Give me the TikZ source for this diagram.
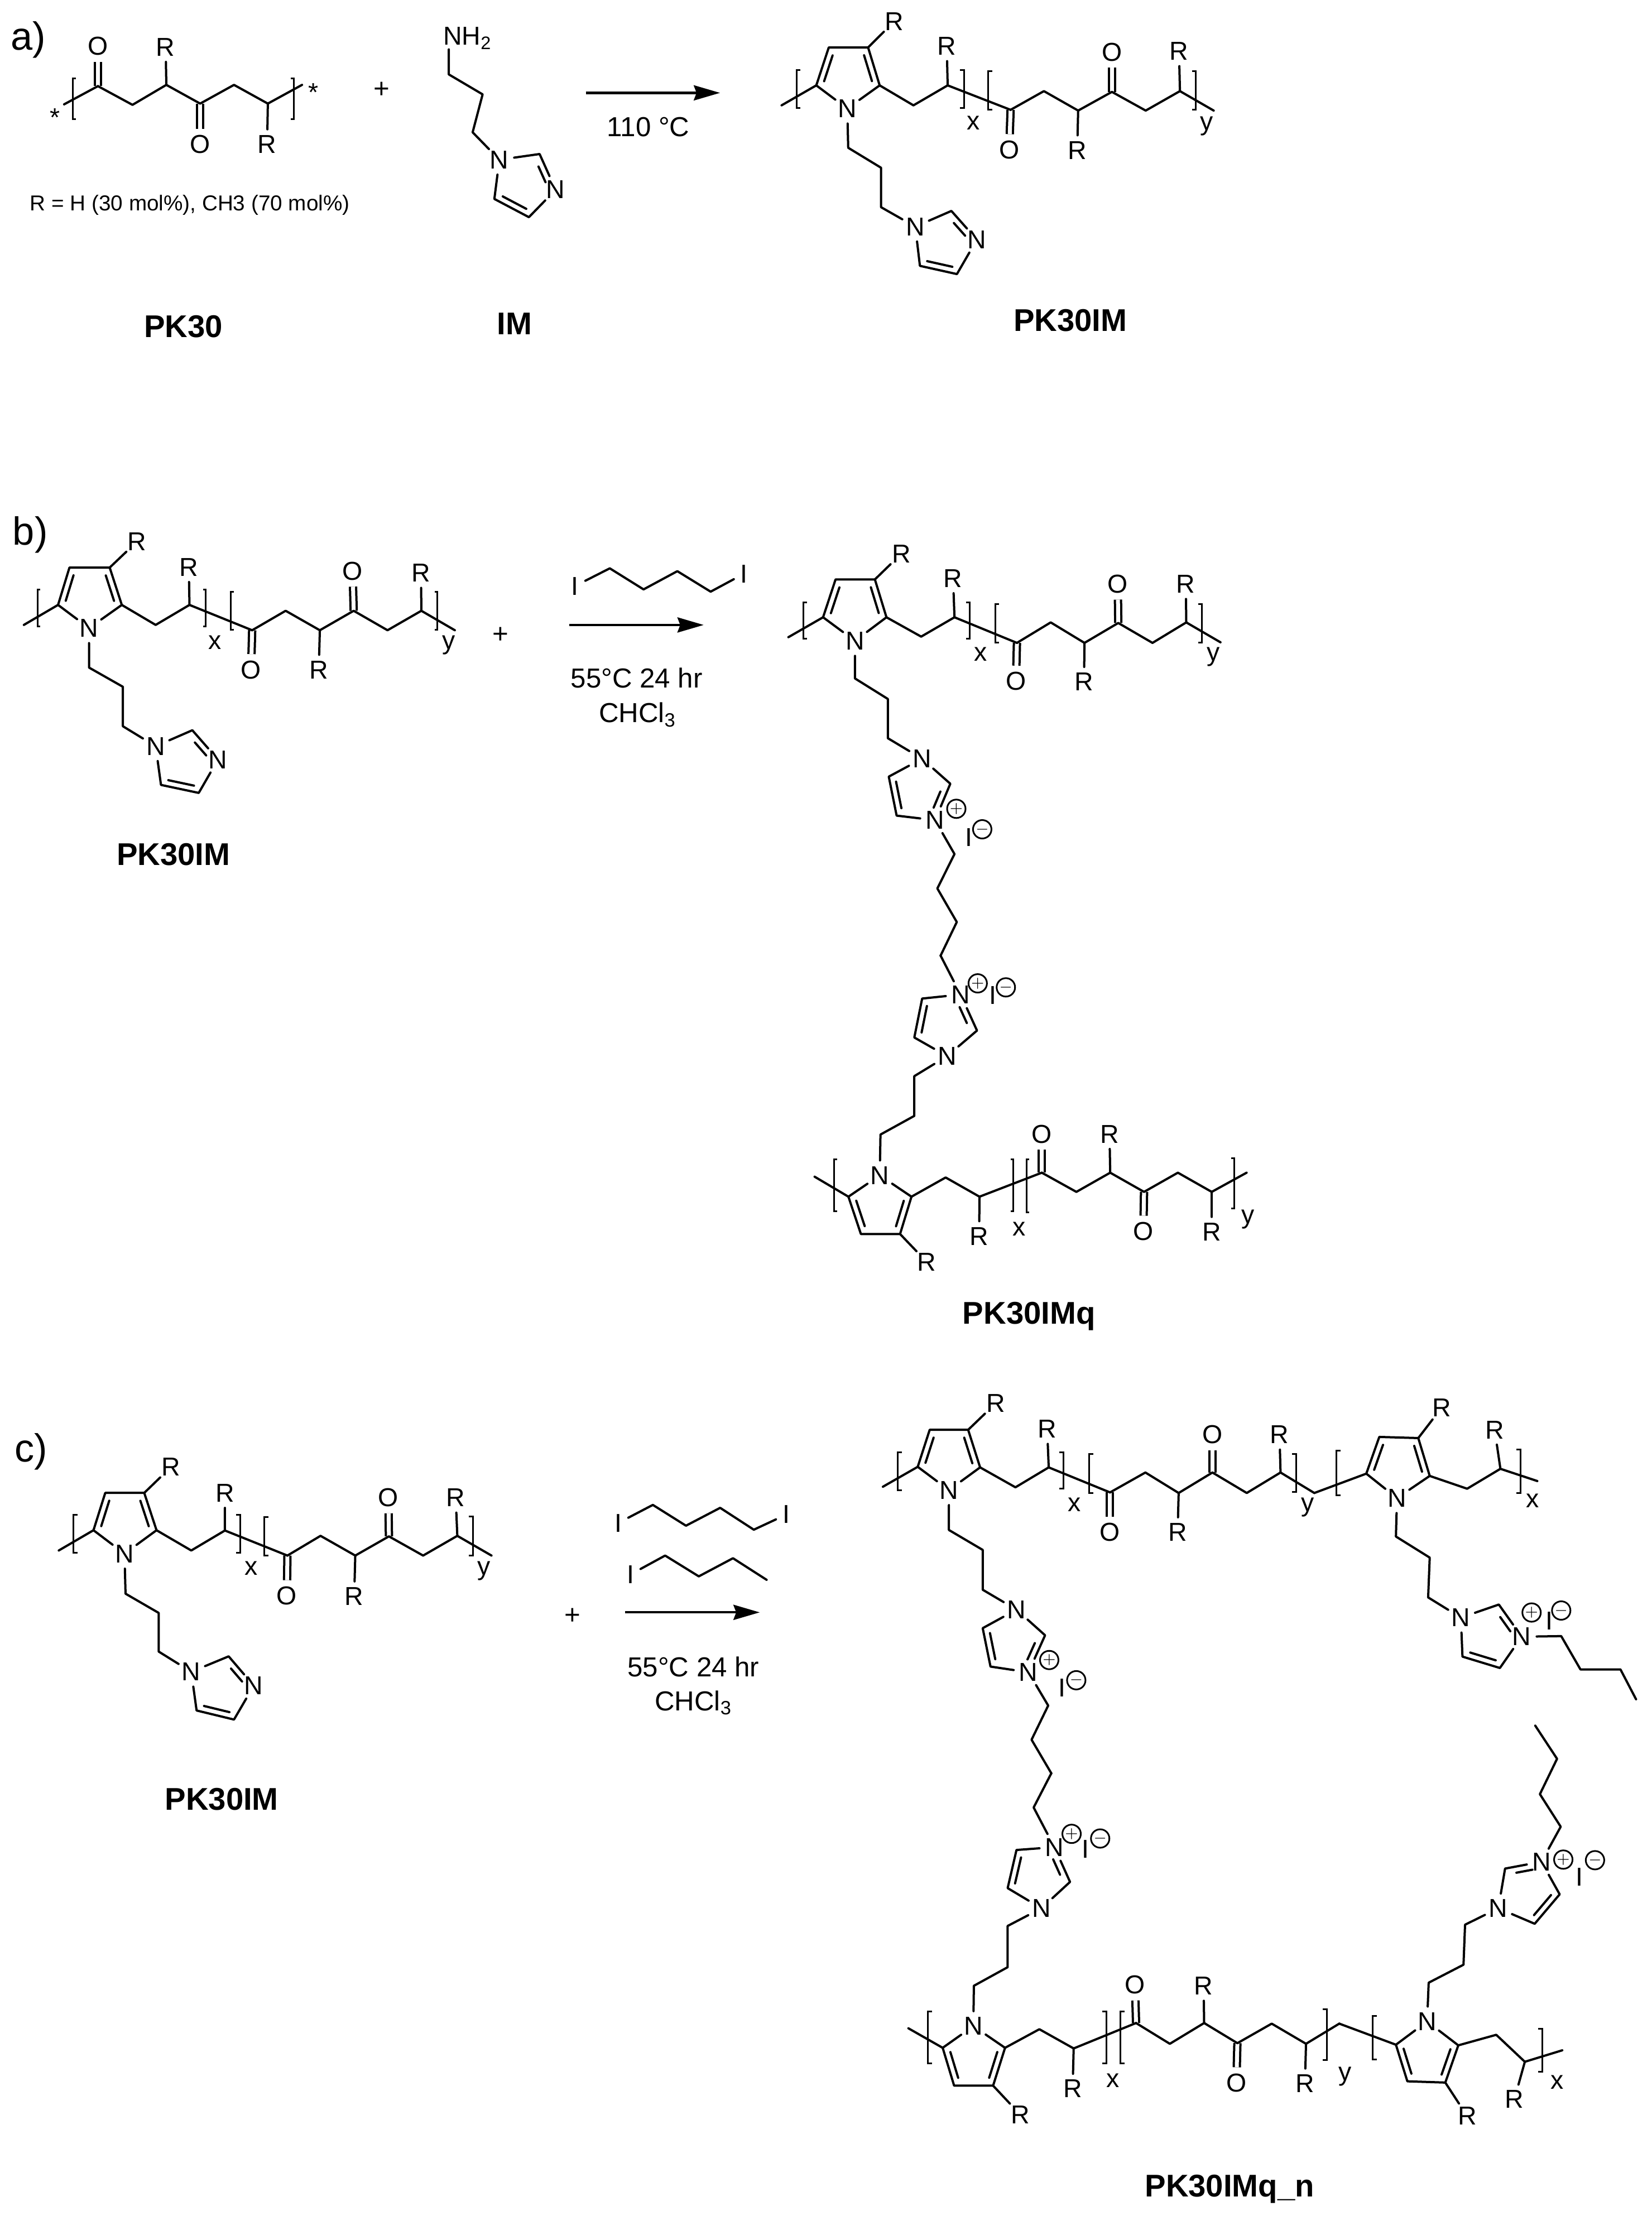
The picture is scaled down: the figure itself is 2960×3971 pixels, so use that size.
\documentclass[tikz,border=0pt]{standalone}
\usepackage{fontspec}
\setmainfont{Liberation Sans}
\usetikzlibrary{calc,arrows.meta}

\tikzset{
	bond/.style={line width=.04cm,line join=round,line cap=round},
	dblbond/.style={line width=.04cm,double,double distance=.07cm},
	bracket/.style={line width=.03cm},
	rxn/.style={line width=.042cm,-{Stealth[length=.47cm,width=.27cm,inset=.05cm]}},
	atom/.style={circle,inner sep=.6pt,font=\fontsize{13.2}{15.8}\selectfont},
	charge/.style={circle,draw,line width=.03cm,inner sep=0pt,minimum size=.33cm,font=\fontsize{8}{9.6}\selectfont},
	cond/.style={inner sep=0pt,font=\fontsize{14}{16.8}\selectfont},
	tag/.style={inner sep=0pt,font=\fontsize{20}{24}\selectfont},
	compound/.style={inner sep=0pt,font=\fontsize{16}{19}\selectfont\bfseries}
}

\newcommand{\pts}[2]{\foreach \nm/\x/\y in {#2} \coordinate (#1\nm) at (\x,\y);}
\newcommand{\labs}[2]{\foreach \nm/\x/\y/\txt in {#2} \node[atom] (#1\nm) at (\x,\y) {\txt};}
\newcommand{\lbrk}[3]{\draw[bracket] (#1+8,#2) -- (#1,#2) -- (#1,#3) -- (#1+8,#3);}
\newcommand{\rbrk}[3]{\draw[bracket] (#1-8,#2) -- (#1,#2) -- (#1,#3) -- (#1-8,#3);}
\newcommand{\inb}[4][.16]{\draw[bond] ($($(#2)!#1!(#3)$)!.11cm!#4:(#3)$) -- ($($(#3)!#1!(#2)$)!.11cm!360-#4:(#2)$);}
\newcommand{\keto}[1]{
	\draw[dblbond] (#1k1) -- (#1O1);
	\draw[dblbond] (#1k4) -- (#1O2);
	\draw[bond] (#1k3) -- (#1R3);
	\draw[bond] (#1k6) -- (#1R6);
	\draw[bond] (#1k1) -- (#1k2) -- (#1k3) -- (#1k4) -- (#1k5) -- (#1k6);
}
\newcommand{\imz}[2]{
	\draw[bond] (#1N1) -- (#1C2) -- (#1N3) -- (#1C4) -- (#1C5) -- (#1N1);
	\inb[.28]{#1N3}{#1C2}{#2}
	\inb{#1C5}{#1C4}{#2}
}
\newcommand{\pyrunit}[2]{
	\draw[bond] (#1r5) -- (#1N) -- (#1r2) -- (#1r3) -- (#1r4) -- (#1r5);
	\draw[bond] (#1r3) -- (#1Rr);
	\inb{#1r2}{#1r3}{#2}
	\inb{#1r4}{#1r5}{#2}
	\draw[bond] (#1t) -- (#1r5);
	\draw[bond] (#1r2) -- (#1p1) -- (#1p2) -- (#1Rp);
	\draw[bond] (#1N) -- (#1s1) -- (#1s2) -- (#1s3) -- (#1N1);
}
\newcommand{\ionpair}[7]{
	\node[charge] (#1plus) at (#2,#3) {$+$};
	\node[atom] (#1I) at (#4,#5) {I};
	\node[charge] (#1minus) at (#6,#7) {$-$};
}

\begin{document}
\begin{tikzpicture}[x=.01cm,y=-.01cm]
	\useasboundingbox (0,0) rectangle (2960,3971);

	% a) monomer and amine
	\begin{scope}[x=.006378cm,y=-.004464cm]
		\node[tag] (tagA) at (80,160) {a)};
		\pts{a}{t/180/418, k1/275/345, k2/372/420, k3/467/340, k4/562/415, k5/657/340, k6/752/415, e/848/340}
		\labs{a}{O1/275/185/O, R3/465/188/R, O2/562/578/O, R6/750/578/R, stL/155/470/*, stR/880/370/*}
		\keto{a}
		\draw[bond] (at) -- (ak1);
		\draw[bond] (ak6) -- (ae);
		\lbrk{205}{315}{477}
		\rbrk{825}{315}{477}
		\node[inner sep=0pt,font=\fontsize{11}{13.2}\selectfont] (ratio) at (533,822) {R = H (30 mol\%), CH3 (70 mol\%)};
		\node[compound] (pk) at (515,1308) {PK30};
		\node[cond] (plusA) at (1072,360) {+};
		\node[atom,inner sep=0pt,anchor=base west] (mNH) at (1237,180) {NH\textsubscript{2}};
		\pts{m}{b/1260/198, s1/1260/298, s2/1355/378, s3/1327/530, C2/1515/617, C4/1485/870, C5/1388/797}
		\labs{m}{N1/1402/640/N, N3/1560/760/N}
		\draw[bond] (mb) -- (ms1) -- (ms2) -- (ms3) -- (mN1);
		\imz{m}{90}
		\node[compound] (im) at (1445,1297) {IM};
	\end{scope}

	% a) product
	\begin{scope}[shift={(1000,0)},x=.00829cm,y=-.004464cm]
		\coordinate (arrA1) at (60,372);
		\coordinate (arrA2) at (350,372);
		\draw[rxn] (arrA1) -- (arrA2);
		\node[cond] (tempA) at (195,508) {110 °C};
		\pts{b}{t/483/422, r5/558/342, r2/695/342, r3/670/190, r4/585/190, p1/768/422, p2/842/342, k1/978/440, k2/1050/365, k3/1124/443, k4/1197/368, k5/1270/443, k6/1344/365, e/1417/443, s1/627/592, s2/698/672, s3/698/830, C2/850/845, C4/862/1098, C5/782/1065}
		\labs{b}{N/625/435/N, Rr/727/85/R, Rp/840/185/R, O1/975/600/O, R3/1122/602/R, O2/1197/208/O, R6/1342/205/R, N1/772/908/N, N3/905/960/N, vx/898/492/x, vy/1402/505/y}
		\pyrunit{b}{90}
		\imz{b}{90}
		\keto{b}
		\draw[bond] (bp2) -- (bk1);
		\draw[bond] (bk6) -- (be);
		\lbrk{516}{280}{432}
		\rbrk{877}{280}{432}
		\lbrk{930}{285}{440}
		\rbrk{1378}{285}{440}
		\node[compound] (pkim) at (1107,1283) {PK30IM};
	\end{scope}

	% b) reactant
	\begin{scope}[shift={(0,900)},x=.006378cm,y=-.004783cm]
		\node[tag] (tagB) at (85,122) {b)};
		\pts{c}{t/67/460, r5/163/385, r2/342/385, r3/308/245, r4/195/245, p1/437/460, p2/532/385, k1/708/480, k2/802/407, k3/898/480, k4/993/407, k5/1088/480, k6/1183/407, e/1277/480, s1/250/620, s2/345/692, s3/345/840, C2/540/855, C4/558/1090, C5/452/1060}
		\labs{c}{N/250/472/N, Rr/385/147/R, Rp/530/243/R, O1/705/628/O, R3/895/628/R, O2/990/258/O, R6/1182/265/R, N1/437/915/N, N3/612/965/N, vx/603/525/x, vy/1260/535/y}
		\pyrunit{c}{90}
		\imz{c}{90}
		\keto{c}
		\draw[bond] (cp2) -- (ck1);
		\draw[bond] (ck6) -- (ce);
		\lbrk{105}{328}{465}
		\rbrk{578}{328}{465}
		\lbrk{648}{335}{478}
		\rbrk{1228}{335}{478}
		\node[cond] (plusB) at (1405,498) {+};
		\node[compound] (pkimB) at (487,1320) {PK30IM};
	\end{scope}

	% b) product, upper half
	\begin{scope}[shift={(950,920)},x=.00829cm,y=-.005102cm]
		\pts{q}{a/172/193, b/245/267, c/318/203, d/390/275}
		\labs{q}{I1/97/255/I, I2/462/212/I}
		\draw[bond] (qI1) -- (qa) -- (qb) -- (qc) -- (qd) -- (qI2);
		\coordinate (arrB1) at (85,392);
		\coordinate (arrB2) at (375,392);
		\draw[rxn] (arrB1) -- (arrB2);
		\node[cond] (tempB) at (230,578) {55°C 24 hr};
		\node[cond,anchor=base] (solvB) at (232,735) {CHCl\textsubscript{3}};
		\pts{d}{t/558/435, r5/633/365, r2/770/365, r3/745/232, r4/660/232, p1/845/433, p2/917/365, k1/1052/455, k2/1125/383, k3/1198/455, k4/1271/385, k5/1345/455, k6/1418/383, e/1492/453, s1/702/580, s2/773/652, s3/773/790, C2/908/950, C4/792/1062, C5/775/925, l1/917/1197, l2/880/1318, l3/922/1436, l4/887/1554}
		\labs{d}{N/702/448/N, Rr/802/142/R, Rp/914/228/R, O1/1050/590/O, R3/1197/592/R, O2/1270/248/O, R6/1417/248/R, N1/847/862/N, N3/875/1078/N, vx/973/495/x, vy/1477/505/y}
		\pyrunit{d}{90}
		\imz{d}{90}
		\keto{d}
		\draw[bond] (dp2) -- (dk1);
		\draw[bond] (dk6) -- (de);
		\lbrk{590}{312}{440}
		\rbrk{950}{312}{440}
		\lbrk{1005}{318}{453}
		\rbrk{1452}{318}{453}
		\ionpair{d}{921}{1038}{948}{1138}{977}{1110}
		\draw[bond] (dN3) -- (dl1) -- (dl2) -- (dl3) -- (dl4);
	\end{scope}

	% b) product, lower half
	\begin{scope}[shift={(1300,1700)},x=.006378cm,y=-.004783cm]
		\pts{e}{t/250/855, r5/345/930, r2/522/930, r3/490/1070, r4/380/1070, p1/618/858, p2/713/930, k1/888/840, k2/985/912, k3/1080/840, k4/1175/912, k5/1270/840, k6/1365/912, e/1463/840, s1/435/697, s2/530/627, s3/530/478, C2/706/307, C4/552/187, C5/530/333}
		\labs{e}{N/433/850/N, Rr/565/1175/R, Rp/712/1078/R, O1/888/695/O, R3/1078/695/R, O2/1173/1060/O, R6/1365/1062/R, N1/622/403/N, N3/660/172/N, vx/825/1050/x, vy/1467/1015/y}
		\pyrunit{e}{-90}
		\imz{e}{-90}
		\keto{e}
		\draw[bond] (ep2) -- (ek1);
		\draw[bond] (ek6) -- (ee);
		\draw[bond] (dl4) -- (eN3);
		\lbrk{305}{790}{985}
		\rbrk{808}{790}{985}
		\lbrk{845}{790}{988}
		\rbrk{1428}{785}{975}
		\ionpair{e}{708}{130}{750}{175}{787}{145}
		\node[compound] (pkimq) at (852,1378) {PK30IMq};
	\end{scope}

	% c) reactant and reagents
	\begin{scope}[shift={(0,2550)},x=.009566cm,y=-.004783cm]
		\node[tag] (tagC) at (58,108) {c)};
		\pts{f}{t/110/478, r5/175/402, r2/293/402, r3/270/262, r4/197/262, p1/358/478, p2/421/403, k1/538/497, k2/600/423, k3/665/497, k4/728/425, k5/792/497, k6/856/423, e/920/497, s1/235/640, s2/297/712, s3/297/857, C2/428/875, C4/438/1112, C5/368/1078}
		\labs{f}{N/233/490/N, Rr/320/165/R, Rp/421/262/R, O1/537/648/O, R3/663/650/R, O2/727/280/O, R6/853/280/R, N1/358/933/N, N3/475/985/N, vx/470/545/x, vy/906/555/y}
		\pyrunit{f}{90}
		\imz{f}{90}
		\keto{f}
		\draw[bond] (fp2) -- (fk1);
		\draw[bond] (fk6) -- (fe);
		\lbrk{137}{345}{487}
		\rbrk{450}{345}{487}
		\lbrk{495}{352}{497}
		\rbrk{885}{350}{497}
		\node[compound] (pkimC) at (415,1410) {PK30IM};
		\node[cond] (plusC) at (1072,725) {+};
		\pts{u}{a/1222/307, b/1284/385, c/1348/318, d/1411/400}
		\labs{u}{I1/1157/375/I, I2/1472/343/I}
		\draw[bond] (uI1) -- (ua) -- (ub) -- (uc) -- (ud) -- (uI2);
		\pts{v}{a/1245/497, b/1308/575, c/1372/507, d/1435/588}
		\labs{v}{I1/1180/568/I}
		\draw[bond] (vI1) -- (va) -- (vb) -- (vc) -- (vd);
		\coordinate (arrC1) at (1170,710);
		\coordinate (arrC2) at (1422,710);
		\draw[rxn] (arrC1) -- (arrC2);
		\node[cond] (tempC) at (1298,915) {55°C 24 hr};
		\node[cond,anchor=base] (solvC) at (1298,1078) {CHCl\textsubscript{3}};
	\end{scope}

	% c) product, upper chain
	\begin{scope}[shift={(1500,2400)},x=.00931cm,y=-.005102cm]
		\pts{g}{t/88/518, r5/155/448, r2/275/450, r3/252/318, r4/178/318, p1/343/520, p2/407/450, k1/525/538, k2/593/468, k3/657/540, k4/722/468, k5/788/540, k6/853/468, s1/215/670, s2/280/740, s3/280/880, C2/400/1040, C4/295/1150, C5/280/1015, l1/406/1287, l2/374/1407, l3/412/1525}
		\labs{g}{N/215/530/N, Rr/305/225/R, Rp/404/315/R, O1/525/678/O, R3/655/678/R, O2/722/335/O, R6/851/335/R, N1/345/950/N, N3/368/1170/N, vx/456/580/x, vy/905/590/y}
		\pyrunit{g}{90}
		\imz{g}{90}
		\keto{g}
		\draw[bond] (gp2) -- (gk1);
		\pts{i}{t/918/540, r5/1018/472, r2/1140/480, r3/1118/347, r4/1043/343, p1/1212/525, p2/1276/455, e/1347/498, s1/1075/693, s2/1140/767, s3/1137/907, C2/1273/932, C4/1275/1155, C5/1203/1115, b1/1393/1043, b2/1430/1160, b3/1507/1160, b4/1537/1265}
		\labs{i}{N/1077/558/N, Rr/1163/240/R, Rp/1265/318/R, N1/1200/978/N, N3/1317/1045/N, vx/1338/568/x}
		\pyrunit{i}{90}
		\imz{i}{90}
		\draw[bond] (gk6) -- (it);
		\draw[bond] (ip2) -- (ie);
		\draw[bond] (iN3) -- (ib1) -- (ib2) -- (ib3) -- (ib4);
		\lbrk{117}{397}{530}
		\rbrk{435}{397}{525}
		\lbrk{485}{402}{540}
		\rbrk{883}{402}{537}
		\lbrk{960}{392}{548}
		\rbrk{1315}{387}{540}
		\ionpair{g}{408}{1127}{433}{1225}{460}{1198}
		\ionpair{i}{1336}{960}{1370}{990}{1393}{953}
		\draw[bond] (gN3) -- (gl1) -- (gl2) -- (gl3);
	\end{scope}

	% c) product, lower chain
	\begin{scope}[shift={(1500,3100)},x=.00931cm,y=-.005555cm]
		\pts{h}{t/137/962, r5/203/1025, r2/323/1025, r3/300/1147, r4/225/1147, p1/389/965, p2/455/1027, k1/575/945, k2/640/1012, k3/706/945, k4/770/1010, k5/836/947, k6/902/1012, s1/263/825, s2/328/765, s3/328/632, C2/448/490, C4/345/387, C5/328/510, l4/378/250}
		\labs{h}{N/262/955/N, Rr/352/1240/R, Rp/453/1157/R, O1/573/822/O, R3/705/825/R, O2/768/1138/O, R6/900/1140/R, N1/393/575/N, N3/418/378/N, vx/530/1130/x, vy/977/1118/y}
		\pyrunit{h}{-90}
		\imz{h}{-90}
		\keto{h}
		\draw[bond] (hp2) -- (hk1);
		\draw[bond] (gl3) -- (hl4) -- (hN3);
		\pts{j}{t/966/947, r5/1075/1015, r2/1195/1017, r3/1170/1137, r4/1097/1133, p1/1268/983, p2/1323/1070, e/1395/1033, s1/1138/815, s2/1205/757, s3/1208/628, C2/1285/447, C4/1390/530, C5/1342/625, b1/1392/312, b2/1352/207, b3/1385/93, b4/1343/-14}
		\labs{j}{N/1135/940/N, Rr/1212/1245/R, Rp/1303/1190/R, N1/1272/575/N, N3/1355/425/N, vx/1385/1135/x}
		\pyrunit{j}{-90}
		\imz{j}{90}
		\draw[bond] (hk6) -- (jt);
		\draw[bond] (jp2) -- (je);
		\draw[bond] (jN3) -- (jb1) -- (jb2) -- (jb3) -- (jb4);
		\lbrk{175}{907}{1075}
		\rbrk{518}{907}{1075}
		\lbrk{545}{907}{1075}
		\rbrk{942}{900}{1065}
		\lbrk{1030}{922}{1063}
		\rbrk{1357}{963}{1103}
		\ionpair{h}{451}{335}{478}{385}{506}{350}
		\ionpair{j}{1397}{418}{1428}{475}{1458}{420}
		\node[compound] (pkimqn) at (755,1480) {PK30IMq\_n};
	\end{scope}
\end{tikzpicture}
\end{document}
